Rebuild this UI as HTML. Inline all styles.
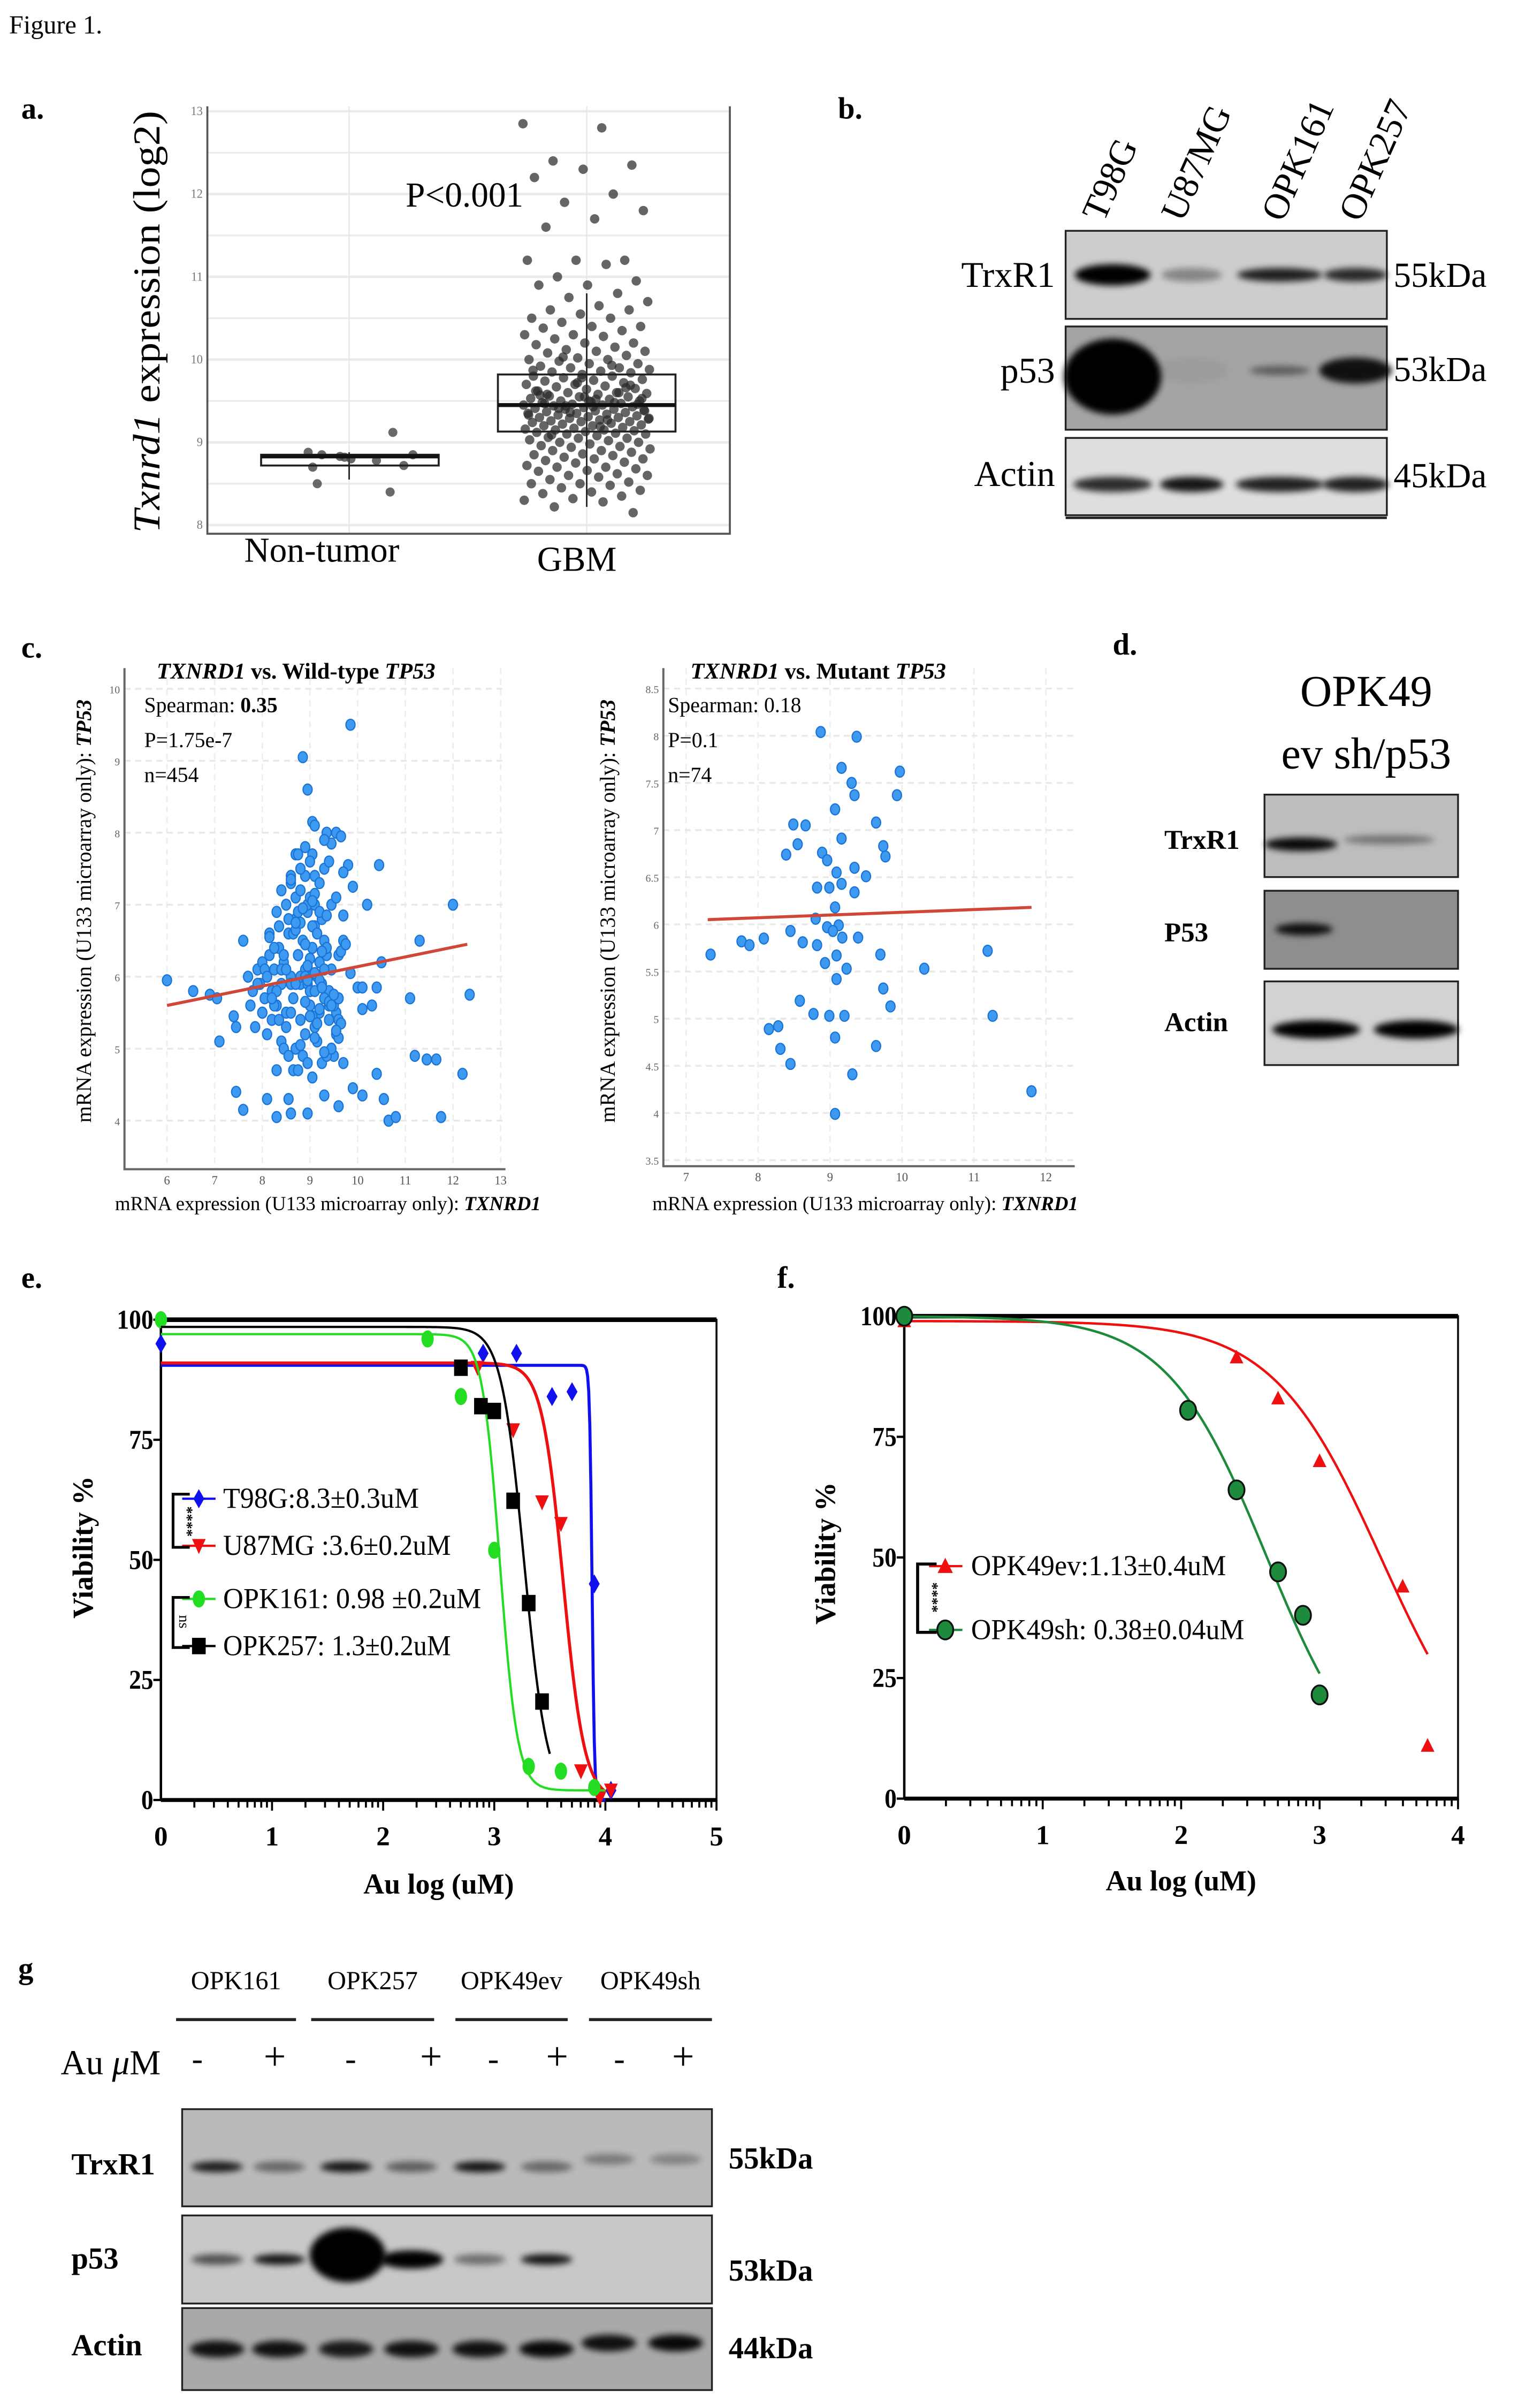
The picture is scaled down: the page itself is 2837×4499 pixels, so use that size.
<!DOCTYPE html>
<html><head><meta charset="utf-8">
<style>
html,body{margin:0;padding:0;background:#fff;}
svg{display:block;font-family:"Liberation Serif",serif;}
</style></head>
<body>
<svg id="fig" xmlns="http://www.w3.org/2000/svg" width="2837" height="4499" viewBox="0 0 1000 1585.8" preserveAspectRatio="none">
<defs>
<filter id="blur2" x="-30%" y="-100%" width="160%" height="300%"><feGaussianBlur stdDeviation="2.2"/></filter>
<filter id="blur1"><feGaussianBlur stdDeviation="1"/></filter>
</defs>
<text x="6" y="22" font-size="17">Figure 1.</text>
</svg>
<script>
// ===== DATA =====
// panel a
const ntValues=[8.88,8.85,8.83,8.82,8.8,8.78,8.72,8.7,8.5,8.4,9.12,8.85];
const ntOffsets=[-0.45,-0.3,-0.1,-0.05,0.02,0.3,0.6,-0.4,-0.35,0.45,0.48,0.7];
const gbmValues=[12.85,12.8,12.4,12.35,12.3,12.2,12.0,11.9,11.8,11.7,11.6,11.2,11.2,11.2,11.15,11.0,10.95,10.9,10.9,10.8,10.75,10.7,10.65,10.6,10.6,10.55,10.5,10.5,10.45,10.4,10.4,10.38,10.35,10.3,10.3,10.28,10.25,10.2,10.2,10.18,10.15,10.12,10.1,10.1,10.08,10.05,10.02,10.0,10.0,9.98,9.95,9.95,9.92,9.9,9.9,9.88,9.86,9.85,9.84,9.82,9.8,9.8,9.78,9.76,9.75,9.74,9.72,9.7,9.7,9.68,9.67,9.65,9.64,9.62,9.6,9.6,9.59,9.58,9.56,9.55,9.55,9.53,9.52,9.5,9.5,9.49,9.48,9.47,9.46,9.45,9.45,9.44,9.43,9.42,9.41,9.4,9.4,9.39,9.38,9.37,9.36,9.35,9.35,9.34,9.33,9.32,9.31,9.3,9.3,9.29,9.28,9.27,9.26,9.25,9.25,9.24,9.23,9.22,9.21,9.2,9.2,9.18,9.17,9.16,9.15,9.15,9.14,9.13,9.12,9.11,9.1,9.1,9.08,9.06,9.05,9.05,9.03,9.02,9.0,9.0,8.98,8.96,8.95,8.94,8.92,8.9,8.9,8.88,8.86,8.85,8.84,8.82,8.8,8.8,8.78,8.76,8.75,8.72,8.7,8.7,8.68,8.66,8.65,8.62,8.6,8.6,8.58,8.55,8.52,8.5,8.5,8.48,8.45,8.42,8.4,8.38,8.35,8.32,8.3,8.28,8.22,8.15,9.55,9.62,9.48,9.44,9.38,9.52,9.58,9.66,9.72,9.33,9.27,9.41,9.46,9.5,9.57,9.6,9.36,9.29,9.19,9.09,9.69,9.78,9.87,9.93,10.03,9.53,9.43,9.47];
const gbmBox={min:8.22,q1:9.13,med:9.45,q3:9.82,max:10.8};
const ntBox={min:8.55,q1:8.72,med:8.83,q3:8.85,max:8.88};
// panel c left (TXNRD1 x, TP53 y)
const wtX=[6.0,6.55,6.9,7.05,7.1,7.4,7.45,7.6,7.45,8.1,7.6,8.3,8.55,8.3,8.6,8.95,9.3,9.6,9.9,10.1,10.55,10.65,10.8,11.75,11.45,11.65,12.2,11.2,10.4,12.35,11.1,10.5,11.3,12.0,10.2,10.45,9.85,8.85,8.95,9.05,9.1,9.35,9.55,9.65,9.45,9.05,9.8,9.7,
7.7,7.8,7.9,7.95,8.0,8.05,8.1,8.15,8.2,8.25,8.3,8.35,8.4,8.45,8.5,8.55,8.6,8.65,8.7,8.75,8.8,8.85,8.9,8.95,9.0,9.05,9.1,9.15,9.2,9.25,9.3,9.35,9.4,9.45,9.5,9.55,9.6,
7.75,7.85,8.0,8.1,8.2,8.3,8.4,8.5,8.6,8.7,8.8,8.9,9.0,9.1,9.2,9.3,9.4,9.5,9.6,9.7,
8.05,8.15,8.25,8.35,8.45,8.55,8.65,8.75,8.85,8.95,9.05,9.15,9.25,9.35,9.45,9.55,
8.3,8.4,8.5,8.6,8.7,8.8,8.9,9.0,9.1,9.2,9.3,9.4,
8.6,8.7,8.8,8.9,9.0,9.1,9.2,9.3,8.75,8.95,9.15,
8.2,8.4,8.6,8.8,9.0,9.2,9.4,9.6,7.9,8.1,8.3,8.5,8.7,8.9,9.1,9.3,9.5,9.7,
8.45,8.65,8.85,9.05,9.25,8.55,8.75,8.95,9.15,9.35,8.35,9.45,8.25,9.55,8.15,9.65,
8.9,9.0,8.95,9.1,9.2,9.25,9.4,9.5,9.05,9.15,8.7,8.8,9.6,9.7,9.75,9.85,10.0,10.1,9.9,9.65,9.55,
9.0,9.1,8.9,8.8,9.2,8.7,9.3,9.1,8.6,8.95,9.05,9.35,8.85,9.25,8.75,9.45,10.1,10.3,10.4,8.2,8.0,7.9,10.2];
const wtY=[5.95,5.8,5.75,5.7,5.1,5.45,5.3,6.5,4.4,4.3,4.15,4.7,4.3,4.05,4.1,4.1,4.35,4.2,4.45,4.35,4.3,4.0,4.05,4.05,4.85,4.85,4.65,4.9,4.65,5.75,5.7,6.2,6.5,7.0,7.0,7.55,9.5,9.05,8.6,8.15,8.1,8.0,8.0,7.95,7.85,7.7,7.55,7.45,
6.0,5.8,6.1,5.9,6.2,5.7,6.0,6.3,5.8,6.1,5.6,6.4,5.9,6.2,5.5,6.6,6.0,5.7,6.8,6.3,5.9,6.5,6.1,6.9,5.8,6.4,6.7,6.0,6.2,5.9,6.5,6.3,5.8,6.1,5.7,
5.5,5.4,5.6,5.3,5.5,5.2,5.4,5.6,5.1,5.3,5.5,5.0,5.4,5.2,5.6,5.3,5.5,5.7,5.4,5.6,
6.3,6.5,6.1,6.6,6.4,6.7,6.3,6.8,6.6,6.9,6.5,7.0,6.7,6.6,6.8,6.4,
7.0,7.1,6.9,7.2,7.0,7.3,7.1,7.2,7.4,7.1,7.0,6.9,
7.5,7.6,7.4,7.7,7.5,7.8,7.6,7.4,7.3,7.9,7.7,
5.9,6.0,5.8,6.1,5.9,6.0,5.8,6.2,5.6,5.7,5.9,6.0,5.8,6.1,5.9,6.0,5.8,6.1,
4.9,4.8,5.0,4.7,4.9,4.6,4.8,4.9,4.7,4.8,5.1,4.9,5.4,5.0,5.6,5.2,
6.55,6.35,6.45,6.25,6.15,6.05,5.95,6.35,5.65,5.75,5.45,5.35,6.65,6.75,5.15,6.85,6.45,6.05,5.85,5.55,7.25,
5.35,5.25,5.45,5.15,5.65,5.05,5.55,6.75,4.95,7.15,7.35,5.95,7.05,6.85,6.95,5.85,6.3,5.6,5.85,5.6,5.85,5.7,5.5];
// panel c right
const mutX=[8.87,9.37,9.16,9.97,9.30,9.34,9.93,9.07,8.49,8.66,9.64,9.16,8.55,8.39,8.89,9.74,9.77,8.96,9.34,9.50,9.09,8.82,8.99,9.16,9.34,9.07,8.80,8.96,9.12,8.45,8.62,8.82,9.04,9.17,9.39,8.08,7.77,7.88,7.34,8.93,9.09,9.23,9.09,9.70,10.31,11.19,9.74,8.58,9.84,8.77,8.99,9.20,11.26,8.28,8.15,9.07,8.31,9.64,8.45,9.31,11.80,9.07];
const mutY=[8.04,7.99,7.66,7.62,7.50,7.37,7.37,7.22,7.06,7.05,7.08,6.91,6.85,6.74,6.76,6.83,6.72,6.68,6.60,6.51,6.55,6.39,6.39,6.43,6.34,6.18,6.06,5.97,5.99,5.93,5.81,5.78,5.93,5.86,5.86,5.85,5.82,5.78,5.68,5.59,5.67,5.53,5.42,5.68,5.53,5.72,5.32,5.19,5.13,5.05,5.03,5.03,5.03,4.92,4.89,4.80,4.68,4.71,4.52,4.41,4.23,3.99];
const wtFit=[[6.0,5.6],[12.3,6.45]];
const mutFit=[[7.3,6.05],[11.8,6.18]];
// panel e
const eSeries=["T98G","U87MG","OPK161","OPK257"];
const eColors=["#1010ee","#ee1010","#22dd22","#000000"];
const eLegend=["T98G:8.3\u00b10.3uM","U87MG :3.6\u00b10.2uM","OPK161: 0.98 \u00b10.2uM","OPK257: 1.3\u00b10.2uM"];
const eX=[[0,2.9,3.2,3.52,3.7,3.9,4.05],[2.85,3.17,3.43,3.6,3.78,3.95,4.05],[0,2.4,2.7,3.0,3.31,3.6,3.9],[2.7,2.88,3.0,3.17,3.31,3.43]];
const eY=[[95,93,93,84,85,45,2],[90,77,62,57.5,6,0.5,2],[100,96,84,52,7,6,2.6],[90,82,81,62.3,41,20.5]];
const eTop=[90.5,91,97,98.5];
const eBottom=[0,0,2,0];
const eIC=[3.88,3.62,3.05,3.27];
const eHill=[40,4.5,5.5,4.2];
const eXTicks=[0,1,2,3,4,5];
const yTicks=[0,25,50,75,100];
// panel f
const fSeries=["OPK49ev","OPK49sh"];
const fColors=["#ee1010","#1e8a3c"];
const fLegend=["OPK49ev:1.13\u00b10.4uM","OPK49sh: 0.38\u00b10.04uM"];
const fX=[[0,2.4,2.7,3.0,3.6,3.78],[0,2.05,2.4,2.7,2.88,3.0]];
const fY=[[99,91.5,83,70,44,11],[100,80.5,64,47,38,21.5]];
const fTop=[99,100];
const fIC=[3.45,2.62];
const fHill=[1.1,1.2];
const fXMax=[3.78,3.0];
const fXTicks=[0,1,2,3,4];
// blots: band intensities (0..1)
const bLanes=["T98G","U87MG","OPK161","OPK257"];
const bTrx=[1.0,0.35,0.85,0.8];
const bP53=[1.0,0.05,0.45,0.9];
const bActin=[0.8,0.9,0.85,0.85];
const dTrx=[0.95,0.4];
const dP53=[0.9,0.0];
const dActin=[1.0,1.0];
const gGroups=["OPK161","OPK257","OPK49ev","OPK49sh"];
const gTrx=[0.85,0.45,0.9,0.5,0.9,0.45,0.35,0.3];
const gP53=[0.6,0.9,1.0,1.0,0.45,0.9,0,0];
const gActin=[0.9,0.9,0.85,0.9,0.9,0.95,0.9,0.95];

// ===== HELPERS =====
const NS="http://www.w3.org/2000/svg";
const svg=document.getElementById('fig');
function el(tag,attrs,parent){const e=document.createElementNS(NS,tag);for(const k in attrs)e.setAttribute(k,attrs[k]);(parent||svg).appendChild(e);return e;}
function txt(x,y,s,size,opts,parent){opts=opts||{};const t=el('text',Object.assign({x:x,y:y,'font-size':size},opts),parent);t.textContent=s;return t;}
function grp(){return el('g',{});}

// ===== PANEL A =====
(function(){
const g=grp();


const L=136.6,R=480.8,B=351.5;
const ya=v=>345.8-(v-8)*54.5;
const xc=[230,386.5];
let t=txt(14,78,'a.',20,{'font-weight':'bold'},g);


for(let v=8;v<=13;v+=0.5){const ln=el('line',{x1:L,x2:R,y1:ya(v),y2:ya(v),stroke:'#ebebeb','stroke-width':v%1===0?1.6:1.2},g);

}
xc.forEach(x=>{const ln=el('line',{x1:x,x2:x,y1:70,y2:B,stroke:'#e6e6e6','stroke-width':0.8},g);

});
let ax=el('polyline',{points:`${L},70 ${L},${B} ${R},${B} ${R},70`,fill:'none',stroke:'#555','stroke-width':1.3},g);


for(let v=8;v<=13;v++){const tl=txt(L-3,ya(v)+2.5,String(v),8,{'text-anchor':'end',fill:'#777'},g);

}
[[ntBox,0],[gbmBox,1]].forEach(([b,i])=>{
 const w=el('line',{x1:xc[i],x2:xc[i],y1:ya(b.min),y2:ya(b.max),stroke:'#222','stroke-width':1},g);
 
 
});
ntValues.forEach((v,i)=>{const c=el('circle',{cx:xc[0]+ntOffsets[i]*60,cy:ya(v),r:3,fill:'#444','fill-opacity':0.8},g);

});
gbmValues.forEach((v,i)=>{const off=(((i*0.6180339)%1)-0.5)*84;const c=el('circle',{cx:xc[1]+off,cy:ya(v),r:3.1,fill:'#2a2a2a','fill-opacity':0.72},g);

});
[[ntBox,172,289],[gbmBox,328,445]].forEach(([b,x1,x2])=>{
 const r=el('rect',{x:x1,y:ya(b.q3),width:x2-x1,height:ya(b.q1)-ya(b.q3),fill:'none',stroke:'#222','stroke-width':1.3},g);
 
 
 const m=el('line',{x1:x1,x2:x2,y1:ya(b.med),y2:ya(b.med),stroke:'#111','stroke-width':2.6},g);
 
 
});
t=txt(306,136,'P<0.001',23,{'text-anchor':'middle'},g);


t=txt(212,370,'Non-tumor',23,{'text-anchor':'middle'},g);


t=txt(380,376,'GBM',23,{'text-anchor':'middle'},g);


const yt=el('text',{x:0,y:0,'font-size':25,transform:'translate(105,212) rotate(-90)','text-anchor':'middle',textLength:278,lengthAdjust:'spacingAndGlyphs'},g);
yt.innerHTML='<tspan font-style="italic">Txnrd1</tspan> expression (log2)';


})();

// ===== BLOT HELPER =====
function blot(g,name,x1,y1,x2,y2,bg,bands){
 const r=el('rect',{x:x1,y:y1,width:x2-x1,height:y2-y1,fill:bg,stroke:'#222','stroke-width':1.2},g);
 
 
 bands.forEach(b=>{if(b.a<=0.02)return;const e=el('ellipse',{cx:b.x,cy:b.y,rx:b.w/2,ry:b.h/2,fill:'#000','fill-opacity':b.a,filter:'url(#blur2)'},g);
 
 });
}

// ===== PANEL B =====
(function(){
const g=grp();


let t=txt(552,78,'b.',20,{'font-weight':'bold'},g);


const laneX=[733,785,843,893];
const laneW=[50,40,56,42];
const lx=[727,779,845,896];
bLanes.forEach((n,i)=>{const tl=txt(0,0,n,24,{transform:`translate(${lx[i]},147) rotate(-66)`},g);

});
blot(g,'trxr1-blot',702,152,913.6,210,'#cdcdcd',bTrx.map((a,i)=>({x:laneX[i],y:181,w:laneW[i],h:i===0?14:9,a:a})));
blot(g,'p53-blot',702,215,913.6,283,'#a4a4a4',bP53.map((a,i)=>({x:laneX[i],y:i===0?248:244,w:i===0?64:(i===2?40:48),h:i===0?50:(i===2?6:17),a:a})));
blot(g,'actin-blot',702,288.4,913.6,339.3,'#dedede',bActin.map((a,i)=>({x:laneX[i],y:319,w:laneW[i]+2,h:10,a:a})));
const ln=el('line',{x1:702,x2:913.6,y1:341,y2:341,stroke:'#222','stroke-width':1.6},g);


[['TrxR1',189],['p53',252],['Actin',320]].forEach(([s,y])=>{const tl=txt(695,y,s,24,{'text-anchor':'end'},g);

});
[['55kDa',189],['53kDa',251],['45kDa',321]].forEach(([s,y])=>{const tl=txt(918,y,s,23,{},g);

});
})();

// ===== PANEL C =====
function scatter(g,pre,L,R,B,top,x0,xStep,y0,yStep,xT,yT,X,Y,fit){
 const sx=v=>x0+(v-xT[0])*xStep, sy=v=>y0-(v-yT[0])*yStep;
 xT.forEach(v=>{const ln=el('line',{x1:sx(v),x2:sx(v),y1:top,y2:B,stroke:'#eee','stroke-width':1,'stroke-dasharray':'4,3'},g);
 
 
 const tl=txt(sx(v),B+10,String(v),8,{'text-anchor':'middle',fill:'#555'},g);
 
 });
 yT.forEach(v=>{const ln=el('line',{x1:L,x2:R,y1:sy(v),y2:sy(v),stroke:'#e8e8e8','stroke-width':1.2,'stroke-dasharray':'4,3'},g);
 
 
 const tl=txt(L-3,sy(v)+3,String(v),7,{'text-anchor':'end',fill:'#666'},g);
 
 });
 const ax=el('polyline',{points:`${L},${top} ${L},${B} ${R},${B}`,fill:'none',stroke:'#666','stroke-width':1.4},g);
 
 
 const n=Math.min(X.length,Y.length);
 for(let i=0;i<n;i++){const c=el('ellipse',{cx:sx(X[i]),cy:sy(Y[i]),rx:3,ry:3.6,fill:'#3d9af0',stroke:'#1a74d6','stroke-width':0.8},g);
 
 }
 const f=el('line',{x1:sx(fit[0][0]),y1:sy(fit[0][1]),x2:sx(fit[1][0]),y2:sy(fit[1][1]),stroke:'#d0473a','stroke-width':2},g);
 
 
}
(function(){
const g=grp();


let t=txt(14,433,'c.',20,{'font-weight':'bold'},g);


scatter(g,'wt',82,333,770,440,110,31.4,738,47.4,[6,7,8,9,10,11,12,13],[4,5,6,7,8,9,10],wtX,wtY,wtFit);
scatter(g,'mut',437,708,768,440,452,47.4,764,62.1,[7,8,9,10,11,12],[3.5,4,4.5,5,5.5,6,6.5,7,7.5,8,8.5],mutX,mutY,mutFit);
let tt=el('text',{x:195,y:447,'font-size':15,'font-weight':'bold','text-anchor':'middle'},g);
tt.innerHTML='<tspan font-style="italic">TXNRD1</tspan> vs. Wild-type <tspan font-style="italic">TP53</tspan>';


tt=el('text',{x:539,y:447,'font-size':15,'font-weight':'bold','text-anchor':'middle'},g);
tt.innerHTML='<tspan font-style="italic">TXNRD1</tspan> vs. Mutant <tspan font-style="italic">TP53</tspan>';


tt=el('text',{x:95,y:469,'font-size':14},g);
tt.innerHTML='Spearman: <tspan font-weight="bold">0.35</tspan>';


[['P=1.75e-7',492],['n=454',515]].forEach(([s,y])=>{const x=txt(95,y,s,14,{},g);

});
[['Spearman: 0.18',469],['P=0.1',492],['n=74',515]].forEach(([s,y])=>{const x=txt(440,y,s,14,{},g);

});
[[216,'wt'],[570,'mut']].forEach(([x,p])=>{const a=el('text',{x:x,y:797,'font-size':13,'text-anchor':'middle'},g);
a.innerHTML='mRNA expression (U133 microarray only): <tspan font-style="italic" font-weight="bold">TXNRD1</tspan>';

});
[[60,'wt'],[405,'mut']].forEach(([x,p])=>{const a=el('text',{x:0,y:0,'font-size':14,'text-anchor':'middle',transform:`translate(${x},600) rotate(-90)`},g);
a.innerHTML='mRNA expression (U133 microarray only): <tspan font-style="italic" font-weight="bold">TP53</tspan>';

});
})();

// ===== PANEL D =====
(function(){
const g=grp();


let t=txt(733,431,'d.',20,{'font-weight':'bold'},g);


t=txt(900,465,'OPK49',29,{'text-anchor':'middle'},g);


t=txt(900,506,'ev  sh/p53',29,{'text-anchor':'middle'},g);


blot(g,'d-trxr1-blot',833,523.3,960.5,577.6,'#bdbdbd',dTrx.map((a,i)=>({x:i?915:857,y:i?553:556,w:i?60:48,h:i?6:9,a:a})));
blot(g,'d-p53-blot',833,586.6,960.5,638,'#8e8e8e',dP53.map((a,i)=>({x:i?915:859,y:612,w:38,h:8,a:a})));
blot(g,'d-actin-blot',833,646.3,960.5,701.4,'#d2d2d2',dActin.map((a,i)=>({x:i?933:867,y:678,w:i?56:58,h:12,a:a})));
[['TrxR1',559],['P53',620],['Actin',679]].forEach(([s,y])=>{const x=txt(767,y,s,18,{'font-weight':'bold'},g);

});
})();

// ===== DOSE RESPONSE HELPER =====
function drPanel(g,pre,L,R,Y100,Y0,xMax,xTicks){
 const sx=v=>L+(v/xMax)*(R-L), sy=v=>Y0-(v/100)*(Y0-Y100);
 const fr=el('rect',{x:L,y:Y100,width:R-L,height:Y0-Y100,fill:'none',stroke:'#111','stroke-width':1.3},g);
 
 
 let ln=el('line',{x1:L,x2:R,y1:Y100,y2:Y100,stroke:'#000','stroke-width':3},g);
 
 
 ln=el('line',{x1:L,x2:R,y1:Y0,y2:Y0,stroke:'#000','stroke-width':2.6},g);
 
 
 ln=el('line',{x1:L,x2:L,y1:Y100,y2:Y0,stroke:'#000','stroke-width':1.6},g);
 
 
 yTicks.forEach(v=>{const tk=el('line',{x1:L-5,x2:L,y1:sy(v),y2:sy(v),stroke:'#000','stroke-width':1.5},g);
 
 
 const tl=txt(L-5,sy(v)+6,String(v),18,{'text-anchor':'end','font-weight':'bold',textLength:String(v).length*8,lengthAdjust:'spacingAndGlyphs'},g);
 
 });
 for(let i=0;i<xMax;i++){for(let k=2;k<=10;k++){const xv=i+Math.log10(k);const tk=el('line',{x1:sx(xv),x2:sx(xv),y1:Y0,y2:Y0+(k===10?7:5),stroke:'#000','stroke-width':1.3},g);
 
 }}
 xTicks.forEach(v=>{const tl=txt(sx(v),Y0+30,String(v),18,{'text-anchor':'middle','font-weight':'bold'},g);
 
 });
 return {sx:sx,sy:sy};
}
function marker(g,shape,x,y,color,s){
 let m;
 if(shape==='diamond')m=el('polygon',{points:`${x},${y-s*1.4} ${x+s*0.8},${y} ${x},${y+s*1.4} ${x-s*0.8},${y}`,fill:color},g);
 else if(shape==='down')m=el('polygon',{points:`${x-s},${y-s} ${x+s},${y-s} ${x},${y+s*1.2}`,fill:color},g);
 else if(shape==='up')m=el('polygon',{points:`${x-s},${y+s*0.9} ${x+s},${y+s*0.9} ${x},${y-s*1.1}`,fill:color},g);
 else if(shape==='square')m=el('rect',{x:x-s,y:y-s*1.2,width:2*s,height:2.4*s,fill:color},g);
 else if(shape==='ring')m=el('ellipse',{cx:x,cy:y,rx:s*1.05,ry:s*1.25,fill:color,stroke:'#111','stroke-width':1.2},g);
 else m=el('ellipse',{cx:x,cy:y,rx:s*0.9,ry:s*1.25,fill:color},g);
 return m;
}

// ===== PANEL E =====
(function(){
const g=grp();


let t=txt(14,848,'e.',20,{'font-weight':'bold'},g);


const s=drPanel(g,'e',106,472,869.1,1185.4,5,eXTicks);
const shapes=['diamond','down','dot','square'];
const xEnd=[4.0,4.0,4.0,3.5];
eSeries.forEach((n,k)=>{
 let pts=[];
 for(let x=0;x<=xEnd[k]+1e-9;x+=0.01){const v=eBottom[k]+(eTop[k]-eBottom[k])/(1+Math.pow(10,(x-eIC[k])*eHill[k]));pts.push(s.sx(x).toFixed(2)+','+s.sy(v).toFixed(2));}
 const c=el('polyline',{points:pts.join(' '),fill:'none',stroke:eColors[k],'stroke-width':k<2?2:1.5},g);
 
 
 eX[k].forEach((x,i)=>{const m=marker(g,shapes[k],s.sx(x),s.sy(eY[k][i]),eColors[k],4.5);
 
 });
});
const ly=[987,1018,1053,1084];
eSeries.forEach((n,k)=>{
 const ln=el('line',{x1:120,x2:142,y1:ly[k],y2:ly[k],stroke:eColors[k],'stroke-width':1.5},g);
 
 
 const m=marker(g,shapes[k],131,ly[k],eColors[k],4.5);
 
 
 const lt=txt(147,ly[k]+6,eLegend[k],19,{textLength:[129,150,170,150][k],lengthAdjust:'spacingAndGlyphs'},g);
 
 
});
let br=el('polyline',{points:'125,984 114,984 114,1019 125,1019',fill:'none',stroke:'#000','stroke-width':1.8},g);


t=txt(0,0,'****',10,{transform:'translate(120,1002) rotate(90)','text-anchor':'middle','font-weight':'bold'},g);


br=el('polyline',{points:'125,1052 114,1052 114,1085 125,1085',fill:'none',stroke:'#000','stroke-width':1.8},g);


t=txt(0,0,'ns',10,{transform:'translate(118,1068) rotate(90)','text-anchor':'middle'},g);


t=txt(0,0,'Viability %',19,{transform:'translate(61,1019) rotate(-90)','text-anchor':'middle','font-weight':'bold'},g);


t=txt(289,1247,'Au log (uM)',19,{'text-anchor':'middle','font-weight':'bold'},g);


})();

// ===== PANEL F =====
(function(){
const g=grp();


let t=txt(512,848,'f.',20,{'font-weight':'bold'},g);


const s=drPanel(g,'f',595.7,960.5,866.8,1184.5,4,fXTicks);
const shapes=['up','ring'];
fSeries.forEach((n,k)=>{
 let pts=[];
 for(let x=0;x<=fXMax[k]+1e-9;x+=0.01){const v=fTop[k]/(1+Math.pow(10,(x-fIC[k])*fHill[k]));pts.push(s.sx(x).toFixed(2)+','+s.sy(v).toFixed(2));}
 const c=el('polyline',{points:pts.join(' '),fill:'none',stroke:fColors[k],'stroke-width':1.6},g);
 
 
 fX[k].forEach((x,i)=>{const m=marker(g,shapes[k],s.sx(x),s.sy(fY[k][i]),fColors[k],k?5:4.5);
 
 });
});
const ly=[1031.4,1073.4];
fSeries.forEach((n,k)=>{
 const ln=el('line',{x1:612,x2:634,y1:ly[k],y2:ly[k],stroke:fColors[k],'stroke-width':1.5},g);
 
 
 const m=marker(g,shapes[k],622.7,ly[k],fColors[k],5);
 
 
 const lt=txt(639.7,ly[k]+6,fLegend[k],19,{textLength:k?180:168,lengthAdjust:'spacingAndGlyphs'},g);
 
 
});
let br=el('polyline',{points:'617,1030 604.5,1030 604.5,1075 617,1075',fill:'none',stroke:'#000','stroke-width':2},g);


t=txt(0,0,'****',10,{transform:'translate(611,1052) rotate(90)','text-anchor':'middle','font-weight':'bold'},g);


t=txt(0,0,'Viability %',19,{transform:'translate(550,1023) rotate(-90)','text-anchor':'middle','font-weight':'bold'},g);


t=txt(778,1245,'Au log (uM)',19,{'text-anchor':'middle','font-weight':'bold'},g);


})();

// ===== PANEL G =====
(function(){
const g=grp();


let t=txt(12,1303,'g',20,{'font-weight':'bold'},g);


const gx=[[116,195],[205,286],[300,374],[388,469]];
gGroups.forEach((n,i)=>{const tl=txt((gx[i][0]+gx[i][1])/2,1310,n,17,{'text-anchor':'middle'},g);


const ln=el('line',{x1:gx[i][0],x2:gx[i][1],y1:1330,y2:1330,stroke:'#222','stroke-width':2},g);

});
t=el('text',{x:40,y:1366,'font-size':23},g);
t.innerHTML='Au <tspan font-style="italic">\u03bc</tspan>M';


const sx=[130,181,231,284,325,367,408,450];
sx.forEach((x,i)=>{const tl=txt(x,1363,i%2?'+':'-',i%2?26:22,{'text-anchor':'middle'},g);

});
const bx=[143,184,228,271,316,360,401,445];
blot(g,'g-trxr1-blot',120,1389,469,1453,'#bababa',gTrx.map((a,i)=>({x:bx[i],y:i>=6?1422:1427,w:34,h:7,a:a})));
blot(g,'g-p53-blot',120,1459,469,1517,'#c8c8c8',gP53.map((a,i)=>({x:i===2?229:bx[i],y:i===2?1485:1488,w:i===2?50:(i===3?42:34),h:i===2?36:(i===3?12:7),a:a})));
blot(g,'g-actin-blot',120,1520,469,1574,'#a9a9a9',gActin.map((a,i)=>({x:bx[i],y:1547-(i>=6?4:0),w:36,h:11,a:a})));
[['TrxR1',1432],['p53',1494],['Actin',1551]].forEach(([s,y])=>{const x=txt(47,y,s,20,{'font-weight':'bold'},g);

});
[['55kDa',1428],['53kDa',1502],['44kDa',1553]].forEach(([s,y])=>{const x=txt(480,y,s,20,{'font-weight':'bold'},g);

});
})();
</script>
</body></html>
